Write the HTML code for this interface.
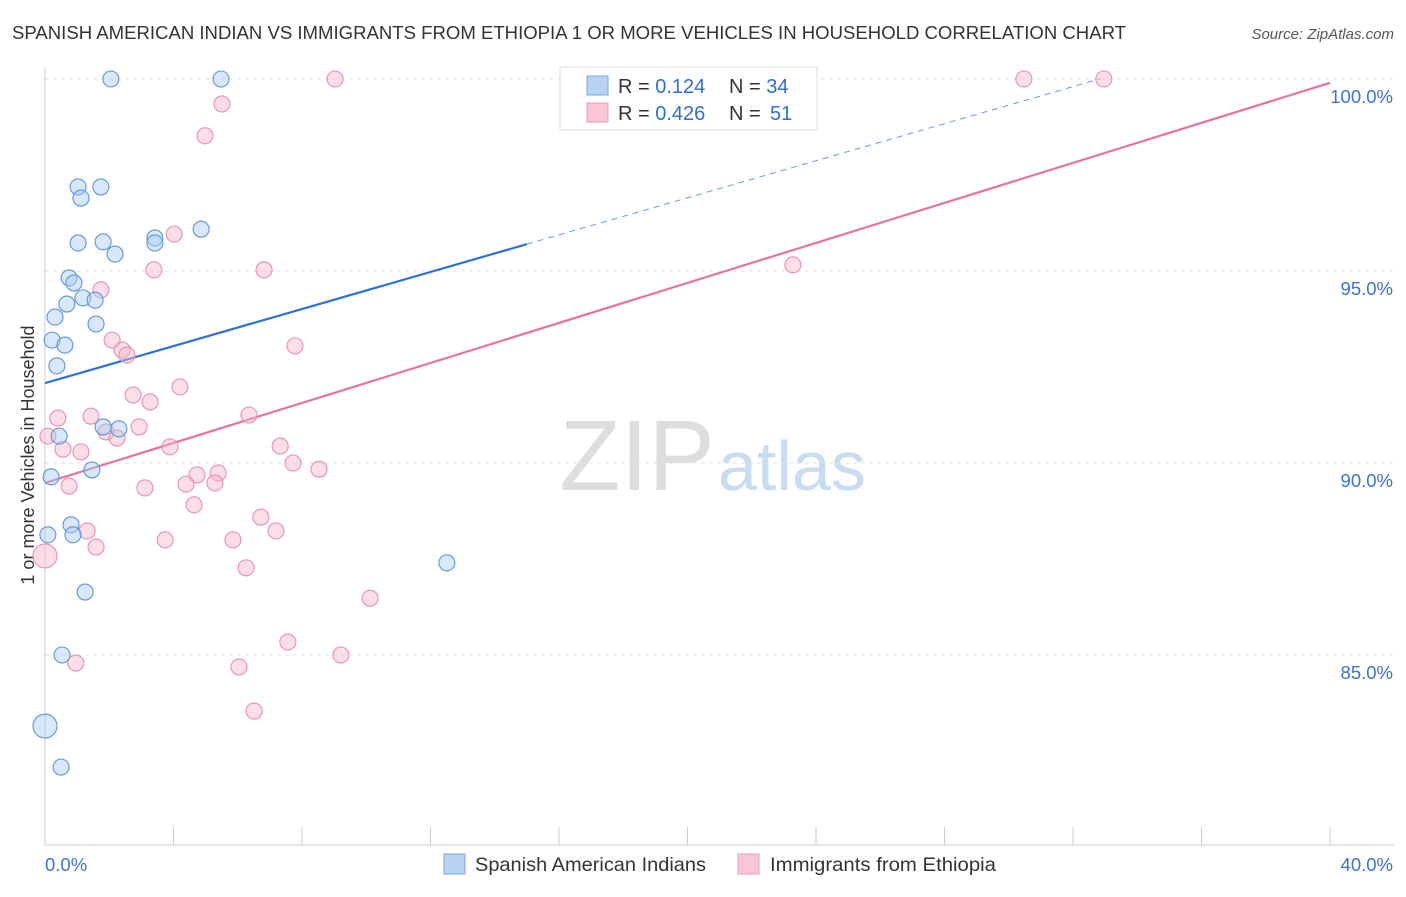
<!DOCTYPE html>
<html><head><meta charset="utf-8"><style>
body{margin:0;background:#fff;font-family:"Liberation Sans",sans-serif}
svg text{font-family:"Liberation Sans",sans-serif}
</style></head><body>
<svg id="c" width="1406" height="892" xmlns="http://www.w3.org/2000/svg">
<text x="12" y="39" font-size="18.5" fill="#333" textLength="1114" lengthAdjust="spacingAndGlyphs">SPANISH AMERICAN INDIAN VS IMMIGRANTS FROM ETHIOPIA 1 OR MORE VEHICLES IN HOUSEHOLD CORRELATION CHART</text>
<text x="1394" y="39" font-size="15" fill="#555" font-style="italic" text-anchor="end">Source: ZipAtlas.com</text>
<text x="715" y="490" font-size="100" fill="#ddd" text-anchor="end" font-family="Liberation Serif">ZIP</text>
<text x="718" y="490" font-size="70" fill="#c9dcf2">atlas</text>
<text transform="translate(34,455) rotate(-90)" font-size="18" fill="#333" text-anchor="middle">1 or more Vehicles in Household</text>
<g id="grid"></g><g id="lines"></g><g id="pts"></g>
<g>
<rect x="560" y="67" width="257" height="63" fill="#fff" stroke="#ddd"/>
<rect x="587" y="76" width="21" height="19" fill="#b8d2f4" stroke="#7aa8e0"/>
<rect x="587" y="103" width="21" height="19" fill="#f9c6d6" stroke="#ec9ab4"/>
<text x="618" y="93" font-size="20" fill="#333">R = <tspan fill="#2f6fd0">0.124</tspan><tspan x="729">N = </tspan><tspan fill="#2f6fd0">34</tspan></text>
<text x="618" y="120" font-size="20" fill="#333">R = <tspan fill="#2f6fd0">0.426</tspan><tspan x="729">N = </tspan><tspan fill="#2f6fd0" x="770">51</tspan></text>
</g>
<g>
<rect x="444" y="854" width="21" height="20" fill="#b8d2f4" stroke="#7aa8e0"/>
<text x="475" y="871" font-size="19.5" fill="#333" textLength="231" lengthAdjust="spacingAndGlyphs">Spanish American Indians</text>
<rect x="738" y="854" width="21" height="20" fill="#f9c6d6" stroke="#ec9ab4"/>
<text x="770" y="871" font-size="19.5" fill="#333" textLength="226" lengthAdjust="spacingAndGlyphs">Immigrants from Ethiopia</text>
</g>
</svg>
<script>
const xTicks=[0,40];
const yTicks=[85,90,95,100];
const blueX=[2.05,5.48,1.03,1.74,1.12,1.03,1.81,3.42,3.42,4.86,2.18,0.75,0.90,1.18,1.56,0.68,0.31,1.59,0.22,0.62,0.37,1.81,2.30,0.44,0.19,1.46,0.81,0.87,0.09,12.51,1.25,0.53,0,0.50];
const blueY=[100,100,97.19,97.19,96.90,95.73,95.76,95.86,95.73,96.09,95.44,94.82,94.69,94.30,94.24,94.14,93.80,93.62,93.20,93.07,92.53,90.94,90.89,90.70,89.64,89.82,88.39,88.13,88.13,87.40,86.64,85.0,83.15,82.08];
const pinkX=[9.03,30.47,32.96,5.51,4.98,4.02,3.39,6.82,23.28,1.74,2.09,2.40,2.55,7.78,4.20,2.74,3.27,0.40,1.43,6.35,2.93,1.90,2.24,0.09,3.89,7.32,0.56,1.12,5.39,4.73,7.72,8.53,0.75,3.11,4.39,5.29,4.64,6.72,1.31,7.19,3.74,5.85,1.59,0,6.26,10.12,7.56,9.21,6.04,0.96,6.51];
const pinkY=[100,100,100,99.35,98.52,95.96,95.03,95.03,95.16,94.51,93.20,92.94,92.81,93.05,91.98,91.77,91.59,91.17,91.22,91.25,90.94,90.81,90.65,90.70,90.42,90.44,90.36,90.29,89.74,89.69,90.0,89.84,89.40,89.35,89.45,89.48,88.91,88.59,88.23,88.23,88.0,88.0,87.81,87.58,87.27,86.48,85.34,85.0,84.69,84.79,83.54];
const blueFit=[92.08,0.2413];
const pinkFit=[89.48,0.2605];
const X=v=>45+v*32.125, Y=v=>79+(100-v)*38.4;
const NS="http://www.w3.org/2000/svg";
function mk(t,a,p){const e=document.createElementNS(NS,t);for(const k in a)e.setAttribute(k,a[k]);p.appendChild(e);return e;}
const g=document.getElementById('grid');
yTicks.forEach(v=>{
 const l=mk('line',{x1:45,x2:1394,y1:Y(v),y2:Y(v),stroke:'#e2e2e2','stroke-dasharray':'4,4'},g);
 
 
 const t=mk('text',{x:1393,y:Y(v)+24,'font-size':18.5,fill:'#3d74cc','text-anchor':'end'},g);
 t.textContent=v.toFixed(1)+'%';
 
 
});
mk('line',{x1:45,x2:45,y1:68,y2:845,stroke:'#ccc'},g);
mk('line',{x1:45,x2:1394,y1:845,y2:845,stroke:'#ccc'},g);
for(let i=0;i<=10;i++){mk('line',{x1:X(i*4),x2:X(i*4),y1:827,y2:845,stroke:'#ccc'},g);}
xTicks.forEach((v,i)=>{
 const t=mk('text',{x:i?1393:45,y:871,'font-size':18.5,fill:'#3d74cc','text-anchor':i?'end':'start'},g);
 t.textContent=v.toFixed(1)+'%';
 
 
});
const L=document.getElementById('lines');
let bl=mk('line',{x1:X(0),y1:Y(blueFit[0]),x2:X(15),y2:Y(blueFit[0]+15*blueFit[1]),stroke:'#2f72d6','stroke-width':2.2},L);


let bd=mk('line',{x1:X(15),y1:Y(blueFit[0]+15*blueFit[1]),x2:X(32.84),y2:Y(blueFit[0]+32.84*blueFit[1]),stroke:'#6a9ad8','stroke-width':1,'stroke-dasharray':'6,5'},L);


let pl=mk('line',{x1:X(0),y1:Y(pinkFit[0]),x2:X(40),y2:Y(pinkFit[0]+40*pinkFit[1]),stroke:'#e8739a','stroke-width':2.2},L);


const P=document.getElementById('pts');
function pts(xs,ys,fill,stroke,name){xs.forEach((x,i)=>{
 const r=(x===0)?12:8;
 const c=mk('circle',{cx:X(x),cy:Y(ys[i]),r:r,fill:fill,'fill-opacity':0.45,stroke:stroke,'stroke-width':1.1},P);
 
 
});}
pts(pinkX,pinkY,'#f7b6ca','#e890ad','ethiopia-point');
pts(blueX,blueY,'#a9c9f1','#5f95d9','spanish-point');
</script>
</body></html>
